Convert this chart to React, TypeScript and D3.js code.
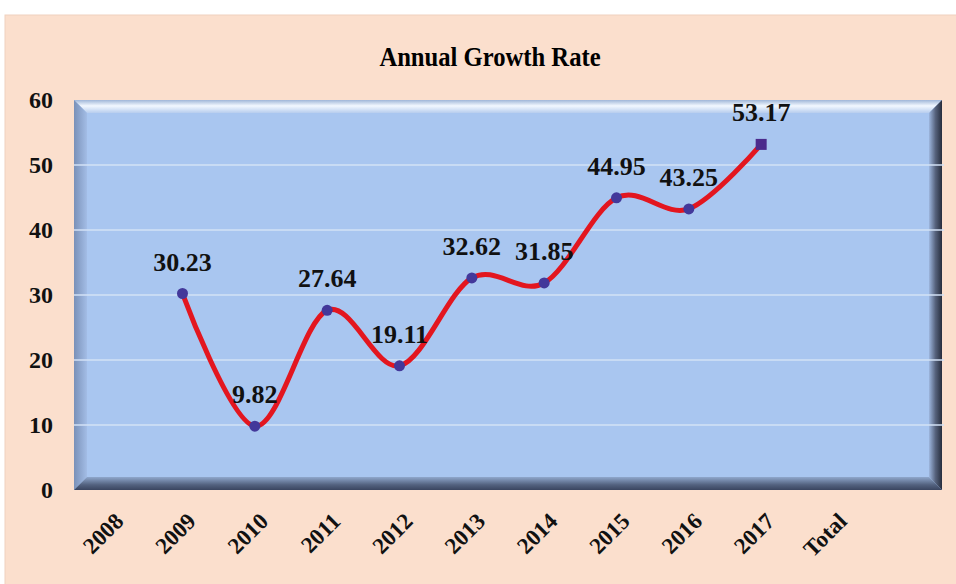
import React from "react";
import * as d3 from "d3";

const categories = ["2008", "2009", "2010", "2011", "2012", "2013", "2014", "2015", "2016", "2017", "Total", ""];
const years = ["2009", "2010", "2011", "2012", "2013", "2014", "2015", "2016", "2017"];
const growth = [30.23, 9.82, 27.64, 19.11, 32.62, 31.85, 44.95, 43.25, 53.17];
const yTicks = [0, 10, 20, 30, 40, 50, 60];
const title = "Annual Growth Rate";

const W = 956;
const H = 584;
const plot = { left: 74, right: 942, top: 100, bottom: 490 };
const bevel = 13;
const serif = "'Liberation Serif', 'Times New Roman', serif";

export default function App() {
  const x = d3.scaleBand<string>().domain(categories).range([plot.left, plot.right]).padding(0);
  const y = d3.scaleLinear().domain([0, 60]).range([plot.bottom, plot.top]);
  const cx = (c: string) => (x(c) ?? 0) + x.bandwidth() / 2;
  const pts: [number, number][] = years.map((c, i) => [cx(c), y(growth[i])]);
  const line = d3.line<[number, number]>().curve(d3.curveCatmullRom.alpha(0)).x(d => d[0]).y(d => d[1]);

  const L = plot.left, R = plot.right, T = plot.top, B = plot.bottom, b = bevel;

  return (
    <svg width={W} height={H} style={{ position: "absolute", left: 0, top: 0 }}>
      <defs>
        <linearGradient id="gTop" x1="0" y1="0" x2="0" y2="1">
          <stop offset="0" stopColor="#9fb6d8" />
          <stop offset="0.45" stopColor="#f2f8ff" />
          <stop offset="1" stopColor="#b7cdee" />
        </linearGradient>
        <linearGradient id="gBottom" x1="0" y1="0" x2="0" y2="1">
          <stop offset="0" stopColor="#8fa7cc" />
          <stop offset="0.6" stopColor="#53627f" />
          <stop offset="1" stopColor="#3a4560" />
        </linearGradient>
        <linearGradient id="gLeft" x1="0" y1="0" x2="1" y2="0">
          <stop offset="0" stopColor="#7a91b8" />
          <stop offset="1" stopColor="#a3bde6" />
        </linearGradient>
        <linearGradient id="gRight" x1="0" y1="0" x2="1" y2="0">
          <stop offset="0" stopColor="#9db6de" />
          <stop offset="0.5" stopColor="#56627c" />
          <stop offset="1" stopColor="#262d3d" />
        </linearGradient>
      </defs>
      <rect x={0} y={0} width={W} height={H} fill="#ffffff" />
      <rect x={5} y={15} width={W} height={H} fill="#fbdfcd" stroke="#f0d2bf" strokeWidth={1} />
      <text x={490} y={66} textAnchor="middle" fontFamily={serif} fontWeight="bold" fontSize={28}
        transform="translate(490,0) scale(0.88,1) translate(-490,0)">
        {title}
      </text>

      {/* plot area with bevel */}
      <rect x={L} y={T} width={R - L} height={B - T} fill="#a9c6f0" />
      <polygon points={`${L},${T} ${R},${T} ${R - b},${T + b} ${L + b},${T + b}`} fill="url(#gTop)" />
      <polygon points={`${L},${T} ${L + b},${T + b} ${L + b},${B - b} ${L},${B}`} fill="url(#gLeft)" />
      <polygon points={`${R},${T} ${R},${B} ${R - b},${B - b} ${R - b},${T + b}`} fill="url(#gRight)" />
      <polygon points={`${L},${B} ${L + b},${B - b} ${R - b},${B - b} ${R},${B}`} fill="url(#gBottom)" />

      {yTicks.filter(t => t > 0 && t < 60).map(t => (
        <line key={t} x1={L} x2={R + 2} y1={y(t)} y2={y(t)} stroke="#d3e2f6" strokeWidth={1.5} />
      ))}

      {yTicks.map(t => (
        <text key={t} x={53} y={y(t) + 8} textAnchor="end" fontFamily={serif} fontWeight="bold" fontSize={24} fill="#111">
          {t}
        </text>
      ))}

      {categories.filter(c => c !== "").map(c => (
        <text
          key={c}
          transform={`translate(${cx(c) + 9},${517}) rotate(-45)`}
          textAnchor="end"
          dy="0.35em"
          fontFamily={serif}
          fontWeight="bold"
          fontSize={23}
          fill="#111"
        >
          {c}
        </text>
      ))}

      <path d={line(pts) ?? ""} fill="none" stroke="#e3161f" strokeWidth={5} strokeLinecap="round" />

      {pts.map((p, i) =>
        i === pts.length - 1 ? (
          <rect key={i} x={p[0] - 5.5} y={p[1] - 5.5} width={11} height={11} fill="#4b2a8c" />
        ) : (
          <circle key={i} cx={p[0]} cy={p[1]} r={5.5} fill="#43389a" />
        )
      )}

      {pts.map((p, i) => (
        <text key={i} x={p[0]} y={p[1] - 23} textAnchor="middle" fontFamily={serif} fontWeight="bold" fontSize={26} fill="#111">
          {growth[i].toFixed(2)}
        </text>
      ))}
    </svg>
  );
}
